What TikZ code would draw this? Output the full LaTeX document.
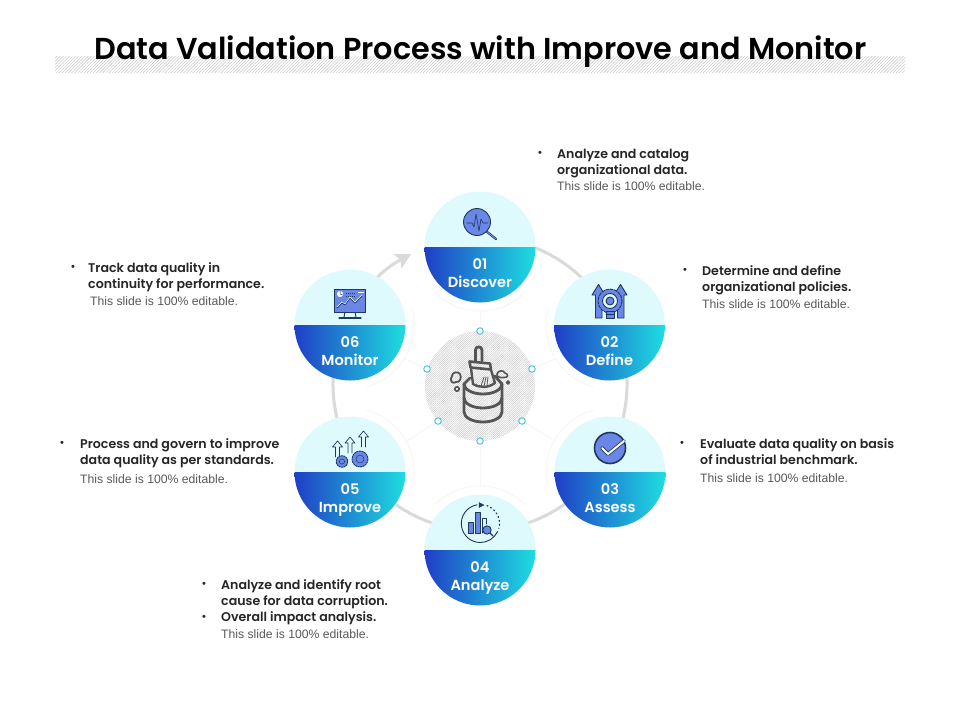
\documentclass[tikz,border=0pt]{standalone}
\usepackage{fontspec}
\setmainfont{Liberation Sans}
\newfontfamily\popf{Poppins}[BoldFont={Poppins SemiBold}]
\usetikzlibrary{patterns.meta,arrows.meta}
\definecolor{pale}{HTML}{DFFAFC}
\definecolor{gradL}{HTML}{1F3EC6}
\definecolor{gradR}{HTML}{1EDDE0}
\definecolor{ifill}{HTML}{6A86E6}
\definecolor{inavy}{HTML}{1B3A5C}
\definecolor{ringc}{HTML}{DADADA}
\definecolor{faint}{HTML}{F8F5F5}
\definecolor{cent}{HTML}{555555}
\definecolor{dotc}{HTML}{4FC9D6}
\definecolor{greyt}{HTML}{595959}
\tikzset{
  stepdisc/.style={circle,minimum size=111pt,inner sep=0pt},
  numtxt/.style={anchor=base,text=white,font=\popf\bfseries\fontsize{14.6}{17}\selectfont,inner sep=0pt},
  faintline/.style={draw=faint,line width=1pt},
  portdot/.style={circle,draw=dotc,fill=white,line width=1pt,minimum size=6.5pt,inner sep=0pt},
  boldtxt/.style={anchor=north west,inner sep=0pt,align=left,font=\popf\bfseries\fontsize{12.6}{16}\selectfont,text=black!85},
  greytxt/.style={anchor=north west,inner sep=0pt,align=left,font=\fontsize{12.2}{16}\selectfont,text=greyt},
  bullet/.style={inner sep=0pt,font=\fontsize{11}{12}\selectfont,text=black!85},
  ico/.style={draw=inavy,fill=ifill,line width=.9pt,line join=round},
  icoline/.style={draw=inavy,line width=.9pt,line cap=round,line join=round},
  cic/.style={draw=cent,line width=2.8pt,line join=round,line cap=round},
}
\newcommand{\stepc}[5]{% name, x, y, number, label
  \node[stepdisc] (#1) at (#2,#3) {};
  \fill[pale] (#2-55.5,#3) arc[start angle=180,end angle=360,radius=55.5] -- cycle;
  \shade[left color=gradL,right color=gradR] (#2-55.5,#3) arc[start angle=180,end angle=0,radius=55.5] -- cycle;
  \node[numtxt] (#1n) at (#2,#3+22) {#4};
  \node[numtxt] (#1l) at (#2,#3+40) {#5};
}
\begin{document}
\begin{tikzpicture}[x=1pt,y=-1pt]
\useasboundingbox (0,0) rectangle (960,720);
\fill[white] (0,0) rectangle (960,720);
% title
\fill[pattern={Lines[angle=45,distance=2.2pt,line width=.5pt]},pattern color=black!22] (55,56) rectangle (905,72);
\node[inner sep=0pt,font=\popf\bfseries\fontsize{30.3}{36}\selectfont,text=black] (title) at (480.5,52) {Data Validation Process with Improve and Monitor};
% ring with its arrow
\draw[ringc,line width=3pt,-{Stealth[length=15pt,width=16pt,inset=3pt]}] (480,384) ++(-80:147) arc[start angle=-80,end angle=242,radius=147];
% centre
\node[circle,minimum size=110pt,inner sep=0pt,pattern={Lines[angle=45,distance=1.5pt,line width=.45pt]},pattern color=black!22] (hub) at (480,386) {};
\node[portdot] (p1) at (480,331) {};
\node[portdot] (p2) at (532,369) {};
\node[portdot] (p3) at (522,421) {};
\node[portdot] (p4) at (480,441) {};
\node[portdot] (p5) at (438,421) {};
\node[portdot] (p6) at (427,369) {};
\coordinate (q1) at (480,311);
\coordinate (q2) at (557,358);
\coordinate (q3) at (555,441);
\coordinate (q4) at (480,487);
\coordinate (q5) at (407,441);
\coordinate (q6) at (404,358);
\foreach \i in {1,...,6} \draw[faintline] (p\i) -- (q\i);
% faint arcs round discs
\draw[faintline] (480,247) ++(45:64) arc[start angle=45,end angle=135,radius=64];
\draw[faintline] (610,325) ++(105:64) arc[start angle=105,end angle=195,radius=64];
\draw[faintline] (610,472) ++(165:64) arc[start angle=165,end angle=255,radius=64];
\draw[faintline] (480,550) ++(225:64) arc[start angle=225,end angle=315,radius=64];
\draw[faintline] (350,472) ++(285:64) arc[start angle=285,end angle=375,radius=64];
\draw[faintline] (350,325) ++(-15:64) arc[start angle=-15,end angle=75,radius=64];
% discs
\stepc{s1}{480}{247}{01}{Discover}
\stepc{s2}{609.5}{325}{02}{Define}
\stepc{s3}{610}{472}{03}{Assess}
\stepc{s4}{480}{550}{04}{Analyze}
\stepc{s5}{350}{472}{05}{Improve}
\stepc{s6}{350}{325}{06}{Monitor}
% icon 01
\draw[icoline,line width=2.2pt] (486,231) -- (496,239);
\draw[ifill,line width=.9pt] (486,231) -- (496,239);
\draw[ico] (477,222) circle[radius=13.5];
\draw[icoline,line width=.6pt] (467,223) -- (472,223) -- (474,227) -- (476,214) -- (479,231) -- (481,219) -- (483,223) -- (488,223);
% icon 02
\draw[ico] (595.5,318) -- (595.5,295) -- (592,295) -- (598.5,284.5) -- (605,295) -- (602,295) -- (602,318) -- cycle;
\draw[ico] (617.5,318) -- (617.5,295) -- (614,295) -- (620.5,284.5) -- (627,295) -- (624,295) -- (624,318) -- cycle;
\draw[ico,dash pattern=on 3.5pt off .8pt] (610,301) circle[radius=12];
\draw[icoline,fill=pale] (610,301) circle[radius=7.5];
\draw[ico] (610,301) circle[radius=4];
\draw[ico] (606,311) rectangle (614,318);
\draw[icoline,line width=.6pt] (606,314) -- (614,314);
% icon 03
\draw[ico,line width=1.6pt] (610,448) circle[radius=15.5];
\draw[inavy,line width=3.6pt,line cap=round,line join=round] (602,448) -- (608,454) -- (624,441);
\draw[white,line width=2pt,line cap=round,line join=round] (602,448) -- (608,454) -- (624,441);
% icon 04
\draw[icoline] (477,504.8) arc[start angle=-100,end angle=-270,radius=19] arc[start angle=90,end angle=25,radius=19];
\draw[inavy,line width=1.2pt,dash pattern=on 1pt off 3pt,line cap=round] (487,505.6) arc[start angle=-70,end angle=15,radius=19];
\draw[inavy,fill=inavy] (479,502.5) -- (484,505) -- (479,507.5) -- cycle;
\draw[ico] (468,522) rectangle (473,533);
\draw[ico] (475,512) rectangle (480,533);
\draw[icoline] (482,533) -- (482,518.5) -- (486,518.5) -- (486,524);
\draw[icoline,line width=1.3pt] (490,533) -- (493,536);
\draw[ico] (487,530) circle[radius=4.2];
% icon 05
\foreach \xx/\top in {337.5/441,350/437,363.5/431}{
  \draw[icoline,line width=.7pt] (\xx-2,{\top+16}) -- (\xx-2,\top+6) -- (\xx-5,\top+6) -- (\xx,\top) -- (\xx+5,\top+6) -- (\xx+2,\top+6) -- (\xx+2,{\top+16});
}
\draw[ico,dash pattern=on 2pt off .6pt] (342,461.5) circle[radius=5.8];
\draw[ico,dash pattern=on 2pt off .6pt] (360,459) circle[radius=8];
\draw[icoline,line width=.5pt] (360,459) circle[radius=4];
\draw[icoline,line width=.5pt] (342,461.5) circle[radius=2.6];
% icon 06
\draw[ico] (334,289.5) rectangle (365.5,312);
\draw[icoline] (345,312) -- (344,317) (355,312) -- (356,317);
\draw[icoline,line width=1.2pt] (339,318) -- (361,318);
\draw[white,fill=white] (340,294) circle[radius=2.8];
\draw[inavy,line width=.5pt] (340,294) -- (340,291.2) (340,294) -- (342.6,295);
\draw[inavy,line width=1pt,dash pattern=on 1pt off 1pt] (346,293) -- (356,293) (346,296) -- (356,296);
\draw[white,line width=1pt,dash pattern=on 1.5pt off .7pt] (358,292) -- (364,292);
\draw[inavy,line width=.8pt,line join=round] (337,308) -- (342,303) -- (345,305) -- (350,298) -- (355,303) -- (362,296);
\draw[white,line width=.4pt] (337,307) -- (342,302) -- (345,304) -- (350,297) -- (355,302) -- (362,295);
% centre icon
\draw[cic] (470,378) -- (464,384) -- (464,412) arc[start angle=180,end angle=0,x radius=19,y radius=10] -- (502,384) -- (495,376);
\draw[cic] (464,384) arc[start angle=180,end angle=0,x radius=19,y radius=10];
\draw[cic] (464,398) arc[start angle=180,end angle=0,x radius=19,y radius=10];
\draw[cic] (475.5,361) -- (475.5,350) arc[start angle=180,end angle=360,radius=3.2] -- (482,361);
\draw[cic,line width=2.6pt] (469.5,361.5) -- (490,363.5) -- (491,369.5) -- (470.5,367.5) -- cycle;
\draw[cic,line width=2.4pt] (471,368) -- (473,384) .. controls (480,388) and (488,388) .. (495,383) -- (491,370);
\draw[cic,line width=.8pt] (484,377) -- (481,386) (488,377) -- (487,385) (486,377) -- (484,386);
\draw[cic,line width=1.8pt] (452,376) .. controls (452,372) and (458,371) .. (460,374) .. controls (462,377) and (460,383) .. (456,382) .. controls (453,384) and (449,382) .. (452,376) -- cycle;
\draw[cic,line width=1.6pt] (457,389) circle[radius=2.2];
\draw[cic,line width=1.6pt] (497,374) .. controls (498,370) and (504,370) .. (505,373) .. controls (509,374) and (508,378) .. (504,377.5) .. controls (501,378) and (496,377) .. (497,374) -- cycle;
\draw[cic,line width=1.6pt] (508,382.5) circle[radius=1.6];
% texts
\node[bullet] (b1) at (540,154) {•};
\node[boldtxt] (t1) at (557,147) {\strut Analyze and catalog\\organizational data.};
\node[greytxt] (g1) at (557,179) {\strut This slide is 100\% editable.};
\node[bullet] (b2) at (685,271) {•};
\node[boldtxt] (t2) at (702,264) {\strut Determine and define\\organizational policies.};
\node[greytxt] (g2) at (702,297) {\strut This slide is 100\% editable.};
\node[bullet] (b3) at (682,444) {•};
\node[boldtxt] (t3) at (700,437) {\strut Evaluate data quality on basis\\of industrial benchmark.};
\node[greytxt] (g3) at (700,471) {\strut This slide is 100\% editable.};
\node[bullet] (b4) at (204,585) {•};
\node[bullet] (b4b) at (204,618) {•};
\node[boldtxt] (t4) at (221,578) {\strut Analyze and identify root\\cause for data corruption.\\Overall impact analysis.};
\node[greytxt] (g4) at (221,627) {\strut This slide is 100\% editable.};
\node[bullet] (b5) at (62,444) {•};
\node[boldtxt] (t5) at (80,437) {\strut Process and govern to improve\\data quality as per standards.};
\node[greytxt] (g5) at (80,472) {\strut This slide is 100\% editable.};
\node[bullet] (b6) at (73,268) {•};
\node[boldtxt] (t6) at (88,261) {\strut Track data quality in\\continuity for performance.};
\node[greytxt] (g6) at (90,294) {\strut This slide is 100\% editable.};
\end{tikzpicture}
\end{document}
